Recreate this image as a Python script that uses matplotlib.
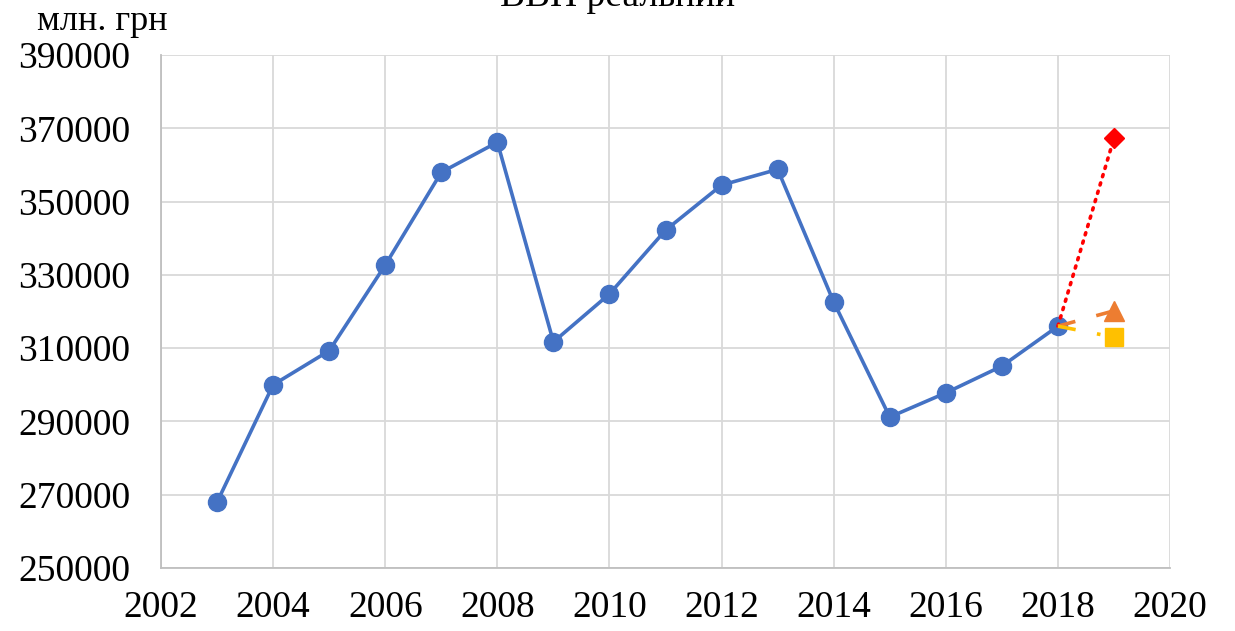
import matplotlib
matplotlib.use("Agg")
import matplotlib.pyplot as plt

# real GDP, mln UAH
years = [2003, 2004, 2005, 2006, 2007, 2008, 2009, 2010, 2011, 2012,
         2013, 2014, 2015, 2016, 2017, 2018]
gdp = [268000, 300000, 309300, 332700, 358000, 366200, 311700, 324800,
       342200, 354500, 358800, 322600, 291200, 297800, 305100, 316000]

# forecasts for 2019 (start at the 2018 value)
fc_years = [2018, 2019]
fc_red = [316000, 367300]
fc_orange = [316000, 320200]
fc_yellow = [316000, 313000]

plt.rcParams['font.family'] = ['Liberation Serif', 'DejaVu Serif']

fig = plt.figure(figsize=(12.35, 6.31), dpi=100)
ax = fig.add_axes([0.1304, 0.0998, 0.817, 0.813])

ax.plot(years, gdp, color='#4472C4', lw=2.6, marker='o', ms=13, zorder=3)
ax.plot(fc_years, fc_red, color='#FF0000', lw=2.6, linestyle=(0, (0.6, 1.8)),
        dash_capstyle='round', marker='D', ms=10, markevery=[1], zorder=4)
ax.plot(fc_years, fc_orange, color='#ED7D31', lw=2.6, linestyle=(0, (5, 6)),
        marker='^', ms=14, markevery=[1], zorder=4)
ax.plot(fc_years, fc_yellow, color='#FFC000', lw=2.6, linestyle=(0, (5, 6, 1, 6)),
        marker='s', ms=12.5, markevery=[1], zorder=4)

ax.set_xlim(2002, 2020)
ax.set_ylim(250000, 390000)
ax.set_xticks(range(2002, 2021, 2))
ax.set_yticks(range(250000, 390001, 20000))
ax.grid(True, color='#d9d9d9', lw=1.3)
ax.set_axisbelow(True)
for s in ['top', 'right']:
    ax.spines[s].set_visible(False)
for s in ['left', 'bottom']:
    ax.spines[s].set_color('#bfbfbf')
    ax.spines[s].set_linewidth(1.3)
ax.tick_params(axis='y', length=0, pad=22, labelsize=27)
ax.tick_params(axis='x', length=0, pad=16, labelsize=27)

fig.text(0.03, 0.952, 'млн. грн', fontsize=26, va='baseline', ha='left')
# title is partly cut off at the top edge in the original
fig.text(0.5, 0.99, 'ВВП реальний', fontsize=27, va='baseline', ha='center')

fig.savefig('out.png', dpi=100)
